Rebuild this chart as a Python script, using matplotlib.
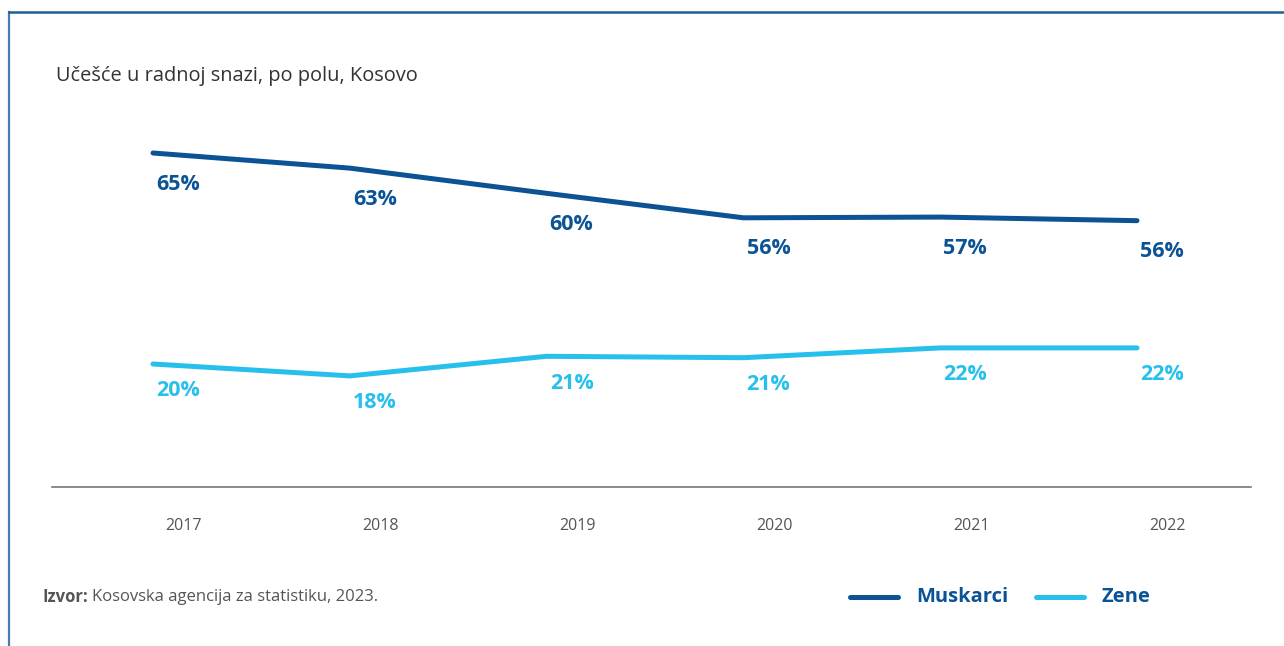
import matplotlib
matplotlib.use("Agg")
import matplotlib.pyplot as plt
import matplotlib.transforms as mtransforms
from matplotlib.lines import Line2D

plt.rcParams['font.family'] = ['Open Sans', 'DejaVu Sans']

# data
years = ["2017", "2018", "2019", "2020", "2021", "2022"]
men = [65.0, 62.9, 59.4, 56.0, 56.1, 55.6]
women = [20.0, 18.3, 21.1, 20.9, 22.3, 22.3]
men_labels = ["65%", "63%", "60%", "56%", "57%", "56%"]
women_labels = ["20%", "18%", "21%", "21%", "22%", "22%"]

dark = "#0b5395"
light = "#27c0ec"
grey = "#555555"

W, H = 1284, 646
fig = plt.figure(figsize=(W / 100, H / 100), dpi=100)

# frame lines (left and top)
fig.add_artist(Line2D([9 / W, 9 / W], [0, 1 - 12 / H], transform=fig.transFigure,
                      color="#4a7ab0", lw=1.6))
fig.add_artist(Line2D([9 / W, 1], [1 - 12 / H, 1 - 12 / H], transform=fig.transFigure,
                      color="#215f9a", lw=1.8))

# axes box: baseline at y=487, x from 52 to 1251
left, right, top, bottom = 52, 1251, 100, 487
ax = fig.add_axes([left / W, 1 - bottom / H, (right - left) / W, (bottom - top) / H])
ax2 = ax.twinx()

x = list(range(len(years)))
step = 196.8
ax.set_xlim(-(153 - left) / step, 5 + (right - 1137) / step)
ax2.set_xlim(ax.get_xlim())

# men axis: 7.2 px per unit, 65 at y=153
ax.set_ylim(65 - (bottom - 153) / 7.2, 65 + (153 - top) / 7.2)
# women axis: 7 px per unit, 20 at y=364
ax2.set_ylim(20 - (bottom - 364) / 7.0, 20 + (364 - top) / 7.0)

ax.plot(x, men, color=dark, lw=3.6, solid_capstyle="round", solid_joinstyle="round")
ax2.plot(x, women, color=light, lw=3.6, solid_capstyle="round", solid_joinstyle="round")

for xi, v, lab in zip(x, men, men_labels):
    ax.annotate(lab, (xi, v), xytext=(25, -31), textcoords="offset pixels",
                ha="center", va="center", color=dark, fontsize=15.5, fontweight="bold")
for xi, v, lab in zip(x, women, women_labels):
    ax2.annotate(lab, (xi, v), xytext=(25, -27), textcoords="offset pixels",
                 ha="center", va="center", color=light, fontsize=15.5, fontweight="bold")

for a in (ax, ax2):
    for s in ["top", "right", "left"]:
        a.spines[s].set_visible(False)
    a.set_yticks([])
ax2.spines["bottom"].set_visible(False)
ax.spines["bottom"].set_color("#777777")
ax.spines["bottom"].set_linewidth(1.2)

ax.set_xticks(x)
ax.set_xticklabels(years, color=grey, fontsize=11.5)
ax.tick_params(axis="x", length=0, pad=22)
shift = mtransforms.ScaledTranslation(31 / 100, 0, fig.dpi_scale_trans)
for t in ax.get_xticklabels():
    t.set_transform(t.get_transform() + shift)

# title
fig.text(56 / W, 1 - 76 / H, "Učešće u radnoj snazi, po polu, Kosovo",
         fontsize=14.4, color="#333333", va="center", ha="left")

# source
src = fig.text(43 / W, 1 - 597 / H, "Izvor:", fontsize=12, color=grey, fontweight="bold",
               va="center", ha="left")
ax.annotate("Kosovska agencija za statistiku, 2023.", xy=(1, 0.5), xycoords=src,
            xytext=(3, 0), textcoords="offset pixels", fontsize=12, color=grey,
            va="center", ha="left", annotation_clip=False)

# legend
fig.add_artist(Line2D([850 / W, 898 / W], [1 - 597 / H] * 2, transform=fig.transFigure,
                      color=dark, lw=3.6, solid_capstyle="round"))
fig.text(916 / W, 1 - 597 / H, "Muskarci", fontsize=14.5, fontweight="bold", color=dark,
         va="center", ha="left")
fig.add_artist(Line2D([1036 / W, 1084 / W], [1 - 597 / H] * 2, transform=fig.transFigure,
                      color=light, lw=3.6, solid_capstyle="round"))
fig.text(1102 / W, 1 - 597 / H, "Zene", fontsize=14.5, fontweight="bold", color=dark,
         va="center", ha="left")

plt.savefig("out.png", dpi=100)
